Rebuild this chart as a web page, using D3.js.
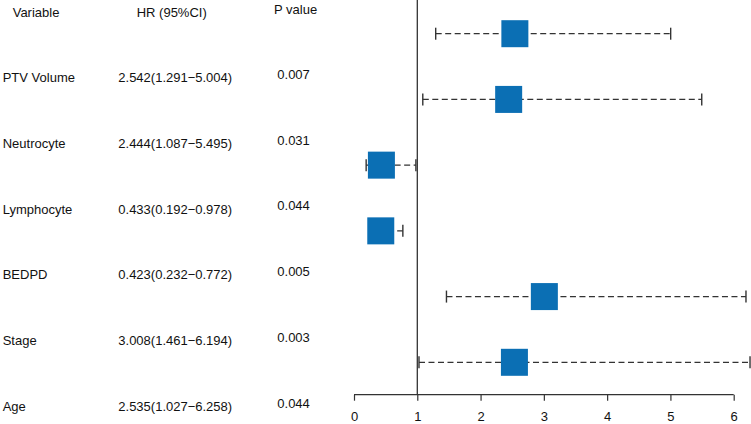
<!DOCTYPE html>
<html>
<head>
<meta charset="utf-8">
<script src="https://cdn.jsdelivr.net/npm/d3@7"></script>
<style>
  body { margin: 0; background: #fff; }
  text { font-family: "Liberation Sans", Arial, sans-serif; font-size: 13px; fill: #111; }
</style>
</head>
<body>
<script>
// data
var variables = ["PTV Volume", "Neutrocyte", "Lymphocyte", "BEDPD", "Stage", "Age"];
var hr = [2.542, 2.444, 0.433, 0.423, 3.008, 2.535];
var lower = [1.291, 1.087, 0.192, 0.232, 1.461, 1.027];
var upper = [5.004, 5.495, 0.978, 0.772, 6.194, 6.258];
var pvalues = ["0.007", "0.031", "0.044", "0.005", "0.003", "0.044"];
var xTicks = [0, 1, 2, 3, 4, 5, 6];

var width = 751, height = 424;

var svg = d3.select("body").append("svg")
    .attr("width", width)
    .attr("height", height);

// x scale for the forest part
var x = d3.scaleLinear()
    .domain([0, 6])
    .range([354, 733.7]);

// row positions (boxes), text sits lower than the boxes
var y = d3.scaleLinear()
    .domain([0, variables.length - 1])
    .range([33.7, 362.3]);
var textOffset = 48.6;

var rows = variables.map(function(v, i) {
    return {name: v, hr: hr[i], lo: lower[i], hi: upper[i], p: pvalues[i], i: i};
});

// headers
svg.append("text").attr("x", 12.7).attr("y", 16.7).text("Variable");
svg.append("text").attr("x", 136.7).attr("y", 16.7).text("HR (95%CI)");
svg.append("text").attr("x", 274).attr("y", 14.3).text("P value");

// table text
var fmt = function(d) { return d.toFixed(3); };
var tr = svg.selectAll(".row")
    .data(rows)
    .enter()
    .append("g")
    .attr("class", "row");

tr.append("text")
    .attr("x", 2.7)
    .attr("y", function(d) { return y(d.i) + textOffset; })
    .text(function(d) { return d.name; });

tr.append("text")
    .attr("x", 118.3)
    .attr("y", function(d) { return y(d.i) + textOffset; })
    .text(function(d) { return fmt(d.hr) + "(" + fmt(d.lo) + "\u2212" + fmt(d.hi) + ")"; });

tr.append("text")
    .attr("x", 277.3)
    .attr("y", function(d) { return y(d.i) + textOffset - 3.3; })
    .text(function(d) { return d.p; });

// reference line at HR = 1
svg.append("line")
    .attr("x1", x(1)).attr("x2", x(1))
    .attr("y1", 0).attr("y2", 394.7)
    .attr("stroke", "#222")
    .attr("stroke-width", 1.2);

// confidence intervals
var ci = svg.selectAll(".ci")
    .data(rows)
    .enter()
    .append("g")
    .attr("class", "ci");

ci.append("line")
    .attr("x1", function(d) { return x(d.lo); })
    .attr("x2", function(d) { return x(d.hi); })
    .attr("y1", function(d) { return y(d.i); })
    .attr("y2", function(d) { return y(d.i); })
    .attr("stroke", "#333")
    .attr("stroke-width", 1.2)
    .attr("stroke-dasharray", "6,3.5");

ci.selectAll(".cap")
    .data(function(d) { return [{v: d.lo, i: d.i}, {v: d.hi, i: d.i}]; })
    .enter()
    .append("line")
    .attr("x1", function(d) { return x(d.v); })
    .attr("x2", function(d) { return x(d.v); })
    .attr("y1", function(d) { return y(d.i) - 6; })
    .attr("y2", function(d) { return y(d.i) + 6; })
    .attr("stroke", "#333")
    .attr("stroke-width", 1.4);

// HR boxes
var box = 27;
svg.selectAll(".box")
    .data(rows)
    .enter()
    .append("rect")
    .attr("x", function(d) { return x(d.hr) - box / 2; })
    .attr("y", function(d) { return y(d.i) - box / 2; })
    .attr("width", box)
    .attr("height", box)
    .attr("fill", "#0b6fb4");

// axis
var axis = svg.append("g")
    .attr("transform", "translate(0,394.7)")
    .call(d3.axisBottom(x).tickValues(xTicks).tickSize(6).tickPadding(11).tickFormat(d3.format("d")));
axis.selectAll("path, line").attr("stroke", "#333").attr("stroke-width", 1.2);
axis.select(".domain").attr("d", "M" + x(0) + ",0H" + x(6));
axis.selectAll("text")
    .style("font-family", "Liberation Sans, Arial, sans-serif")
    .style("font-size", "13px")
    .attr("fill", "#111");
</script>
</body>
</html>
